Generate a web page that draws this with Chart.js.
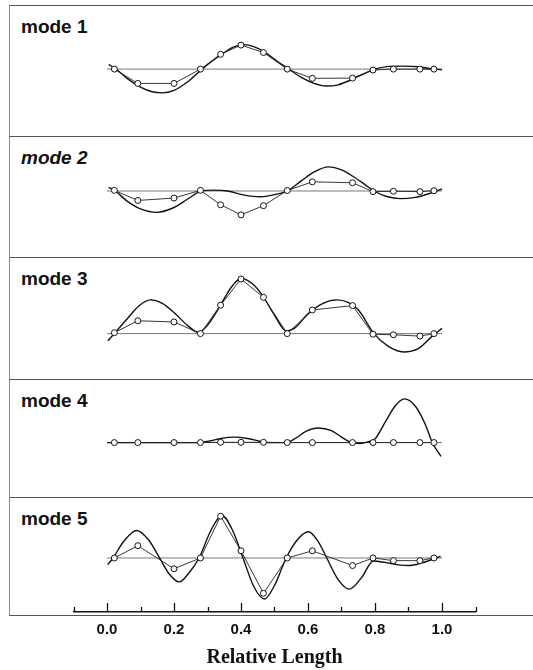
<!DOCTYPE html>
<html>
<head>
<meta charset="utf-8">
<title>Mode shapes</title>
<script src="https://cdn.jsdelivr.net/npm/chart.js@4.4.0/dist/chart.umd.min.js"></script>
<style>
  html, body { margin: 0; padding: 0; background: #fff; }
  body { width: 533px; height: 670px; position: relative; overflow: hidden; }
  .panel {
    position: absolute; left: 9px; width: 540px; box-sizing: border-box;
    border-top: 1px solid #555; border-left: 1px solid #888;
  }
  .panel.last { border-bottom: 1px solid #555; }
  .label {
    position: absolute; left: 21px; color: #111;
    font: bold 19px "Liberation Sans", Arial, sans-serif; line-height: 19px;
  }
  canvas { position: absolute; left: 0; }
</style>
</head>
<body>

<div class="panel" style="top:5px;height:132px"></div>
<div class="panel" style="top:136px;height:122px"></div>
<div class="panel" style="top:257px;height:123px"></div>
<div class="panel" style="top:379px;height:119px"></div>
<div class="panel last" style="top:497px;height:119px"></div>

<div class="label" style="top:17px">mode 1</div>
<div class="label" style="top:148px;font-style:italic">mode 2</div>
<div class="label" style="top:269px">mode 3</div>
<div class="label" style="top:391px">mode 4</div>
<div class="label" style="top:509px">mode 5</div>

<canvas id="mode1" width="533" height="131" style="top:5px"></canvas>
<canvas id="mode2" width="533" height="121" style="top:136px"></canvas>
<canvas id="mode3" width="533" height="122" style="top:257px"></canvas>
<canvas id="mode4" width="533" height="118" style="top:379px"></canvas>
<canvas id="mode5" width="533" height="173" style="top:497px"></canvas>

<script>
// sensor positions along the length (relative length)
const sensorPos = [0.022, 0.092, 0.200, 0.279, 0.339, 0.400, 0.467, 0.538, 0.613, 0.733, 0.794, 0.855, 0.934, 0.976];

// measured amplitudes at the sensors (open circles)
const mode1Sensors = [0, -15.5, -15.5, 0, 16, 26, 18, 0, -10, -9.7, -1, 0, 0, 0];
const mode2Sensors = [0.7, -10.3, -7.7, 0.7, -15, -26, -16, 0.5, 10, 9, -0.7, -0.3, -0.7, 0.3];
const mode3Sensors = [1, 14, 12.7, 0, 31, 59.5, 39.5, 0, 25.7, 30.5, -0.7, -1.3, -2.7, 0];
const mode4Sensors = [0, 0, 0, 0, 0.3, 0.3, 0.3, 0, 0, 0, 0, 0, 0, 0];
const mode5Sensors = [0, 12.5, -11, 0, 42.5, 7.3, -36, 0, 7.3, -7.7, 0, -2.7, -2.7, 0];

// smooth (calculated) mode shapes, [relative length, amplitude]
const mode1Curve = [[0.005, 5], [0.027, 0], [0.06, -10], [0.1, -19.5], [0.135, -24.5], [0.165, -25.7],
  [0.2, -23], [0.24, -14], [0.284, 0], [0.315, 9], [0.346, 17], [0.375, 23.5], [0.408, 26.5],
  [0.44, 24], [0.474, 17.5], [0.51, 8], [0.543, 0], [0.58, -9], [0.618, -15.5], [0.655, -18.3],
  [0.69, -17], [0.738, -10], [0.77, -4.5], [0.80, 0], [0.835, 2.7], [0.88, 3.2], [0.93, 2.5],
  [0.965, 0.5], [1.0, -0.7]];
const mode2Curve = [[0.005, 4], [0.025, 0], [0.06, -11], [0.1, -19.5], [0.149, -23.3], [0.2, -18],
  [0.24, -9], [0.282, 0], [0.32, 1], [0.36, 0], [0.41, -4.5], [0.457, -6.3], [0.50, -4], [0.539, 0],
  [0.58, 11], [0.62, 21], [0.661, 26.3], [0.70, 23], [0.736, 15.5], [0.77, 7], [0.797, 0],
  [0.835, -6], [0.875, -8.3], [0.92, -7], [0.96, -3], [1.0, 2.3]];
const mode3Curve = [[0.003, -7.7], [0.024, 1], [0.06, 16], [0.095, 30], [0.129, 36.7], [0.165, 33],
  [0.2, 23], [0.24, 9], [0.272, 1.5], [0.30, 9], [0.339, 31], [0.37, 50], [0.40, 60], [0.435, 54],
  [0.467, 40], [0.50, 20], [0.535, 3], [0.56, 6], [0.6, 21.5], [0.645, 33], [0.686, 36.7],
  [0.72, 34], [0.75, 26], [0.797, 0], [0.84, -14], [0.885, -20], [0.93, -16], [0.97, -3], [1.0, 5.7]];
const mode4Curve = [[0.0, 0], [0.27, 0], [0.31, 2], [0.34, 4.5], [0.378, 6], [0.42, 4.5], [0.455, 1.5],
  [0.48, 0], [0.533, 0], [0.56, 4], [0.595, 12.5], [0.631, 16], [0.67, 13], [0.70, 6], [0.726, 0.5],
  [0.755, -1], [0.785, 1.5], [0.80, 4], [0.83, 22], [0.86, 40], [0.888, 47.7], [0.92, 40],
  [0.95, 20], [0.971, 0], [0.997, -15]];
const mode5Curve = [[0.002, -6.7], [0.018, 0], [0.05, 17], [0.089, 28], [0.125, 18], [0.157, 0],
  [0.185, -16], [0.216, -24.3], [0.245, -15], [0.275, 0], [0.31, 28], [0.343, 43.3], [0.375, 28],
  [0.406, 0], [0.438, -29], [0.47, -41.7], [0.50, -28], [0.535, 0], [0.567, 18], [0.601, 26.7],
  [0.63, 17], [0.656, 0], [0.69, -22], [0.723, -31.7], [0.76, -20], [0.795, -3], [0.83, -4.5],
  [0.87, -7], [0.9, -7.7], [0.94, -5], [0.975, -1], [0.996, 1.7]];

// zero line extent
const baselineX = [0.0, 1.0];

// x axis ticks
const tickLabels = [0.0, 0.2, 0.4, 0.6, 0.8, 1.0];
const minorTicks = [-0.1, 0.1, 0.3, 0.5, 0.7, 0.9, 1.1];

// upward tick marks on the bottom axis
const tickMarks = {
    id: 'tickMarks',
    afterDraw(chart) {
        const { ctx, scales: { x } } = chart;
        const y0 = x.top;
        ctx.save();
        ctx.strokeStyle = '#111';
        ctx.lineWidth = 1.3;
        const mark = (v, len) => {
            const px = Math.round(x.getPixelForValue(v)) + 0.5;
            ctx.beginPath();
            ctx.moveTo(px, y0);
            ctx.lineTo(px, y0 - len);
            ctx.stroke();
        };
        tickLabels.forEach(v => mark(v, 9));
        minorTicks.forEach(v => mark(v, 5));
        ctx.restore();
    }
};

function createModeChart(id, sensors, curve, yMin, yMax, withAxis) {
    const canvas = document.getElementById(id);
    if (!canvas) return;

    const xScale = {
        type: 'linear',
        min: -0.1,
        max: 1.1,
        display: false
    };
    if (withAxis) {
        Object.assign(xScale, {
            display: true,
            position: 'bottom',
            grid: { display: false, drawTicks: false },
            border: { display: true, color: '#111', width: 1.5 },
            ticks: {
                color: '#111',
                padding: 10.5,
                maxRotation: 0,
                autoSkip: false,
                font: { family: 'Liberation Sans', weight: 'bold', size: 15, lineHeight: 1 },
                callback: v => Number(v).toFixed(1)
            },
            afterBuildTicks: axis => {
                axis.ticks = tickLabels.map(v => ({ value: v }));
            },
            title: {
                display: true,
                text: 'Relative Length',
                color: '#111',
                font: { family: 'Liberation Serif', weight: 'bold', size: 20, lineHeight: 1 },
                padding: { top: 0, bottom: 2 }
            }
        });
    }

    new Chart(canvas, {
        type: 'line',
        data: {
            datasets: [
                {
                    data: sensorPos.map((x, i) => ({ x, y: sensors[i] })),
                    borderColor: '#222',
                    borderWidth: 0.9,
                    tension: 0,
                    pointRadius: 3,
                    pointBackgroundColor: '#fff',
                    pointBorderColor: '#111',
                    pointBorderWidth: 1
                },
                {
                    data: curve.map(([x, y]) => ({ x, y })),
                    borderColor: '#111',
                    borderWidth: 1.4,
                    pointRadius: 0,
                    cubicInterpolationMode: 'monotone'
                },
                {
                    data: baselineX.map(x => ({ x, y: 0 })),
                    borderColor: '#555',
                    borderWidth: 0.8,
                    pointRadius: 0
                }
            ]
        },
        options: {
            responsive: false,
            animation: false,
            events: [],
            layout: { padding: { left: 73.5, right: 57.5, top: 0, bottom: 0 } },
            scales: {
                x: xScale,
                y: { type: 'linear', min: yMin, max: yMax, display: false }
            },
            plugins: {
                legend: { display: false },
                tooltip: { enabled: false }
            }
        },
        plugins: withAxis ? [tickMarks] : []
    });
}

// y ranges put the zero line where it sits in each panel
createModeChart('mode1', mode1Sensors, mode1Curve, -67, 64, false);
createModeChart('mode2', mode2Sensors, mode2Curve, -66.5, 54.5, false);
createModeChart('mode3', mode3Sensors, mode3Curve, -44, 78, false);
createModeChart('mode4', mode4Sensors, mode4Curve, -54, 64, false);
createModeChart('mode5', mode5Sensors, mode5Curve, -55, 57, true);
</script>
</body>
</html>
